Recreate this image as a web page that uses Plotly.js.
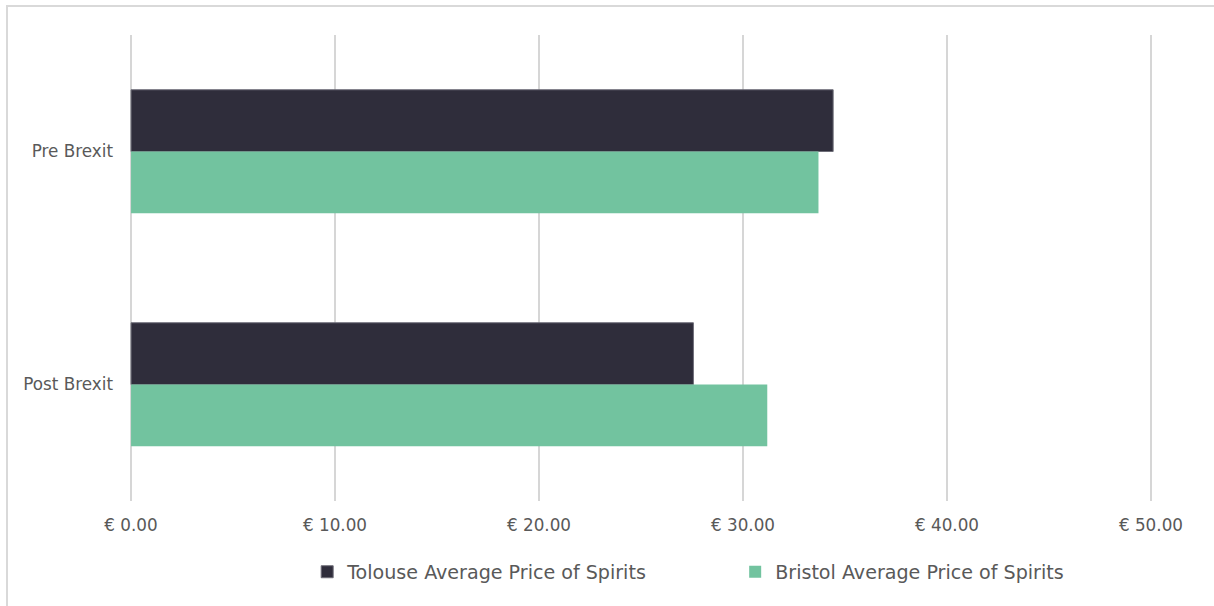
<!DOCTYPE html>
<html>
<head>
<meta charset="utf-8">
<script src="https://cdn.plot.ly/plotly-3.0.1.min.js"></script>
<style>
  html, body { margin: 0; padding: 0; background: #ffffff; }
  #wrap { position: relative; width: 1214px; height: 606px; }
  #chart { position: absolute; left: 0; top: 0; width: 1214px; height: 606px; }
  #frame { position: absolute; left: 6px; top: 5px; width: 1220px; height: 610px;
           border-left: 2px solid #d9d9d9; border-top: 2px solid #d9d9d9; pointer-events: none; }
</style>
</head>
<body>
<div id="wrap">
  <div id="chart"></div>
  <div id="frame"></div>
</div>
<script>
const categories = ["Pre Brexit", "Post Brexit"];
const seriesNames = ["Tolouse Average Price of Spirits", "Bristol Average Price of Spirits"];
const tolouseValues = [34.42, 27.57];
const bristolValues = [33.70, 31.19];
const tickValues = [0, 10, 20, 30, 40, 50];
const tickLabels = ["€ 0.00", "€ 10.00", "€ 20.00", "€ 30.00", "€ 40.00", "€ 50.00"];

const font = "DejaVu Sans, Verdana, sans-serif";

const traces = [
  {
    type: "bar", orientation: "h",
    name: seriesNames[0], y: categories, x: tolouseValues,
    marker: { color: "#2f2d3b", line: { color: "#6e6d78", width: 1 } },
    hoverinfo: "x+name"
  },
  {
    type: "bar", orientation: "h",
    name: seriesNames[1], y: categories, x: bristolValues,
    marker: { color: "#72c39f", line: { width: 0 } },
    hoverinfo: "x+name"
  }
];

const layout = {
  width: 1214, height: 606,
  margin: { l: 129.2, r: 61.26, t: 35, b: 105 },
  paper_bgcolor: "rgba(0,0,0,0)",
  plot_bgcolor: "#ffffff",
  barmode: "group",
  bargap: 0.47,
  bargroupgap: 0,
  font: { family: font, size: 16.8, color: "#595959" },
  xaxis: {
    range: [-0.1, 50.1],
    tickvals: tickValues, ticktext: tickLabels,
    showgrid: true, gridcolor: "#d6d6d6", gridwidth: 1.5,
    zeroline: false, showline: false, ticks: "",
    ticklabelstandoff: 12,
    tickfont: { family: font, size: 16.8, color: "#595959" },
    fixedrange: true
  },
  yaxis: {
    type: "category",
    autorange: "reversed",
    showgrid: false, zeroline: false, showline: false, ticks: "",
    ticklabelstandoff: 15,
    tickfont: { family: font, size: 16.8, color: "#595959" },
    fixedrange: true
  },
  showlegend: true,
  legend: {
    orientation: "h",
    x: 0.174, xanchor: "left",
    y: -0.152, yanchor: "middle",
    font: { family: font, size: 19.1, color: "#595959" },
    itemwidth: 30,
    entrywidth: 383,
    traceorder: "normal",
    bgcolor: "rgba(0,0,0,0)"
  }
};

Plotly.newPlot("chart", traces, layout, { displayModeBar: false, staticPlot: true });
</script>
</body>
</html>
